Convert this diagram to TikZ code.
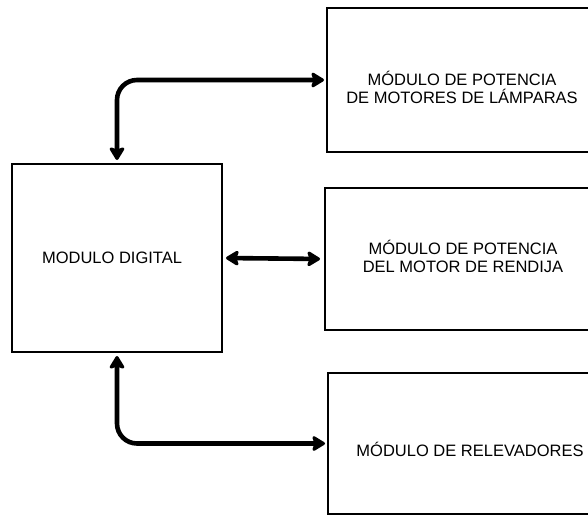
\documentclass[tikz,border=0pt]{standalone}
\usepackage{fontspec}
\setmainfont{Liberation Sans}
\usetikzlibrary{arrows.meta}
\begin{document}
\begin{tikzpicture}[x=1pt,y=-1pt,
  box/.style={draw=black,line width=2pt,rectangle,inner sep=0pt},
  lbl/.style={font=\fontsize{16.5}{18}\selectfont,align=center,inner sep=0pt},
  conn/.style={line width=4.6pt,rounded corners=20pt,
    {Stealth[length=15pt,width=18pt,inset=3pt,round]}-{Stealth[length=15pt,width=18pt,inset=3pt,round]}}]
\clip (0,0) rectangle (588,516);
\useasboundingbox (0,0) rectangle (588,516);
\node[box,minimum width=210pt,minimum height=188pt] (dig) at (117,258) {};
\node[box,minimum width=270pt,minimum height=144pt,anchor=west] (pot) at (326,80) {};
\node[box,minimum width=270pt,minimum height=142pt,anchor=west] (ren) at (324,259) {};
\node[box,minimum width=270pt,minimum height=141pt,anchor=west] (rel) at (327,443.5) {};
\node[lbl] (tdig) at (112,258) {MODULO DIGITAL};
\node[lbl] (tpot) at (462,87) {MÓDULO DE POTENCIA\\DE MOTORES DE LÁMPARAS};
\node[lbl] (tren) at (463,256) {MÓDULO DE POTENCIA\\DEL MOTOR DE RENDIJA};
\node[lbl] (trel) at (470,449) {MÓDULO DE RELEVADORES};
\draw[conn,shorten <=3pt,shorten >=2pt] (dig.north) |- (pot.west);
\draw[conn,shorten <=3pt,shorten >=4pt] (dig.east) -- (ren.west);
\draw[conn,shorten <=3pt,shorten >=2pt] (dig.south) |- (rel.west);
\end{tikzpicture}
\end{document}
